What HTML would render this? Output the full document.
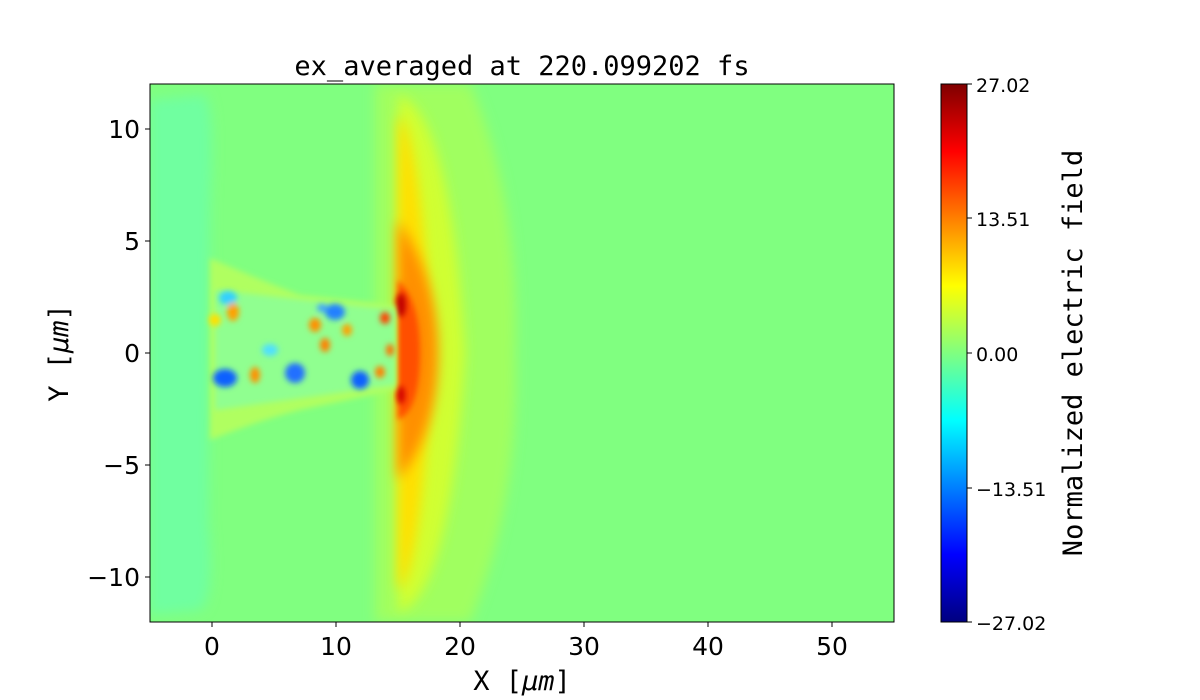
<!DOCTYPE html>
<html><head><meta charset="utf-8"><style>
html,body{margin:0;padding:0;background:#fff;width:1200px;height:700px;overflow:hidden}
text{font-family:"DejaVu Sans","Liberation Sans",sans-serif;fill:#000}
.m{font-family:"DejaVu Sans Mono","Liberation Mono",monospace}
</style></head><body>
<svg width="1200" height="700" viewBox="0 0 1200 700" xmlns="http://www.w3.org/2000/svg">
<defs>
<clipPath id="c"><rect x="150" y="84" width="744" height="538"/></clipPath>
<filter id="b1" x="-50%" y="-50%" width="200%" height="200%"><feGaussianBlur stdDeviation="6"/></filter>
<filter id="b2" x="-50%" y="-50%" width="200%" height="200%"><feGaussianBlur stdDeviation="3"/></filter>
<linearGradient id="jet" x1="0" y1="1" x2="0" y2="0">
<stop offset="0" stop-color="#00007f"/><stop offset="0.125" stop-color="#0000ff"/>
<stop offset="0.375" stop-color="#00ffff"/><stop offset="0.5" stop-color="#80ff80"/>
<stop offset="0.625" stop-color="#ffff00"/><stop offset="0.875" stop-color="#ff0000"/>
<stop offset="1" stop-color="#7f0000"/></linearGradient>
</defs>
<text x="522" y="75" class="m" font-size="27" text-anchor="middle">ex_averaged at 220.099202 fs</text>
<g clip-path="url(#c)">
<rect x="150" y="84" width="744" height="538" fill="#80ff80"/>
<path d="M150 100 L205 95 Q215 110 210 200 L208 520 Q215 600 200 610 L150 615 Z" fill="#70ffa0" filter="url(#b1)"/>
<path d="M375 84 L470 84 Q520 200 515 353 Q520 500 470 622 L375 622 Z" fill="#a0ff60" filter="url(#b1)"/>
<path d="M398 95 Q450 110 465 353 Q450 600 398 612 Z" fill="#d0ff30" filter="url(#b1)"/>
<path d="M398 115 Q420 130 432 353 Q420 580 398 590 Z" fill="#ffe000" filter="url(#b1)"/>
<path d="M398 220 Q438 280 438 353 Q438 430 398 480 Z" fill="#ff9000" filter="url(#b1)"/>
<path d="M398 280 Q420 300 420 353 Q420 410 398 420 Z" fill="#ff5000" filter="url(#b2)"/>
<ellipse cx="401" cy="305" rx="5" ry="12" fill="#c00000" filter="url(#b2)"/>
<ellipse cx="401" cy="395" rx="4" ry="9" fill="#d00000" filter="url(#b2)"/>
<path d="M210 258 Q260 280 300 295 L395 305 L395 390 L300 410 Q260 420 210 440 Z" fill="#b0ff60" filter="url(#b2)"/>
<path d="M215 290 L395 310 L395 385 L215 410 Z" fill="#90ff90" filter="url(#b2)"/>
<g filter="url(#b2)">
<ellipse cx="225" cy="378" rx="12" ry="9" fill="#1060ff"/>
<ellipse cx="295" cy="373" rx="10" ry="10" fill="#2070ff"/>
<ellipse cx="360" cy="380" rx="9" ry="9" fill="#1060ff"/>
<ellipse cx="335" cy="312" rx="10" ry="8" fill="#2080ff"/>
<ellipse cx="322" cy="308" rx="5" ry="4" fill="#40a0ff"/>
<ellipse cx="228" cy="298" rx="9" ry="7" fill="#30d0ff"/>
<ellipse cx="233" cy="312" rx="6" ry="9" fill="#ffa000"/>
<ellipse cx="215" cy="320" rx="6" ry="6" fill="#ffe000"/>
<ellipse cx="255" cy="375" rx="5" ry="8" fill="#ff9000"/>
<ellipse cx="315" cy="325" rx="6" ry="7" fill="#ff9000"/>
<ellipse cx="325" cy="345" rx="5" ry="7" fill="#ff8000"/>
<ellipse cx="347" cy="330" rx="5" ry="6" fill="#ffa000"/>
<ellipse cx="385" cy="318" rx="5" ry="6" fill="#ff4000"/>
<ellipse cx="390" cy="350" rx="4" ry="6" fill="#ff7000"/>
<ellipse cx="380" cy="372" rx="5" ry="6" fill="#ff8000"/>
<ellipse cx="270" cy="350" rx="8" ry="6" fill="#50e0ff"/>
</g>
</g>
<rect x="150" y="84" width="744" height="538" fill="none" stroke="#000" stroke-width="1"/>
<g stroke="#000" stroke-width="1">
<line x1="212" y1="622" x2="212" y2="627"/><line x1="336" y1="622" x2="336" y2="627"/>
<line x1="460" y1="622" x2="460" y2="627"/><line x1="584" y1="622" x2="584" y2="627"/>
<line x1="708" y1="622" x2="708" y2="627"/><line x1="832" y1="622" x2="832" y2="627"/>
<line x1="145" y1="129" x2="150" y2="129"/><line x1="145" y1="241" x2="150" y2="241"/>
<line x1="145" y1="353" x2="150" y2="353"/><line x1="145" y1="465" x2="150" y2="465"/>
<line x1="145" y1="577" x2="150" y2="577"/>
</g>
<g font-size="25" text-anchor="middle">
<text x="212" y="655">0</text><text x="336" y="655">10</text><text x="460" y="655">20</text>
<text x="584" y="655">30</text><text x="708" y="655">40</text><text x="832" y="655">50</text>
</g>
<g font-size="25" text-anchor="end">
<text x="140" y="138">10</text><text x="140" y="250">5</text><text x="140" y="362">0</text>
<text x="140" y="474">−5</text><text x="140" y="586">−10</text>
</g>
<text x="522" y="690" class="m" font-size="27" text-anchor="middle">X [<tspan font-style="italic">μm</tspan>]</text>
<text transform="translate(68,353) rotate(-90)" class="m" font-size="27" text-anchor="middle">Y [<tspan font-style="italic">μm</tspan>]</text>
<rect x="941" y="84" width="26" height="538" fill="url(#jet)" stroke="#000" stroke-width="1"/>
<g stroke="#000"><line x1="967" y1="84" x2="972" y2="84"/><line x1="967" y1="218" x2="972" y2="218"/>
<line x1="967" y1="353" x2="972" y2="353"/><line x1="967" y1="488" x2="972" y2="488"/><line x1="967" y1="622" x2="972" y2="622"/></g>
<g font-size="19">
<text x="976" y="92">27.02</text><text x="976" y="226">13.51</text><text x="976" y="361">0.00</text>
<text x="976" y="496">−13.51</text><text x="976" y="630">−27.02</text>
</g>
<text transform="translate(1082,353) rotate(-90)" class="m" font-size="27" text-anchor="middle">Normalized electric field</text>
</svg>
</body></html>
